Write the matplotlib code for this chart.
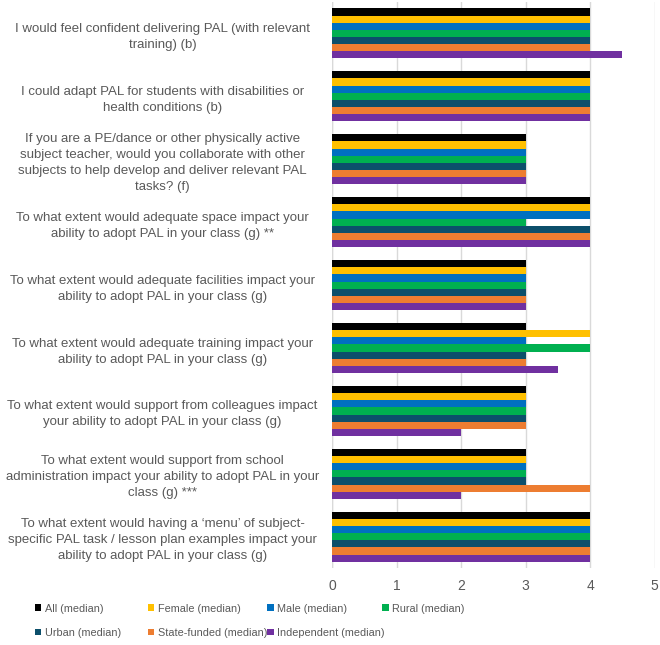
import numpy as np
import matplotlib
matplotlib.use("Agg")
import matplotlib.pyplot as plt

plt.rcParams['font.family'] = ['Liberation Sans', 'DejaVu Sans']

# questions (top to bottom)
questions = [
    "I would feel confident delivering PAL (with relevant\ntraining) (b)",
    "I could adapt PAL for students with disabilities or\nhealth conditions (b)",
    "If you are a PE/dance or other physically active\nsubject teacher, would you collaborate with other\nsubjects to help develop and deliver relevant PAL\ntasks? (f)",
    "To what extent would adequate space impact your\nability to adopt PAL in your class (g) **",
    "To what extent would adequate facilities impact your\nability to adopt PAL in your class (g)",
    "To what extent would adequate training impact your\nability to adopt PAL in your class (g)",
    "To what extent would support from colleagues impact\nyour ability to adopt PAL in your class (g)",
    "To what extent would support from school\nadministration impact your ability to adopt PAL in your\nclass (g) ***",
    "To what extent would having a \u2018menu\u2019 of subject-\nspecific PAL task / lesson plan examples impact your\nability to adopt PAL in your class (g)",
]

series_names = ["All (median)", "Female (median)", "Male (median)", "Rural (median)",
                "Urban (median)", "State-funded (median)", "Independent (median)"]
colors = ["#000000", "#FFC000", "#0070C0", "#00B050", "#0C4F6B", "#ED7D31", "#7030A0"]

all_med         = [4, 4, 3, 4, 3, 3, 3, 3, 4]
female_med      = [4, 4, 3, 4, 3, 4, 3, 3, 4]
male_med        = [4, 4, 3, 4, 3, 3, 3, 3, 4]
rural_med       = [4, 4, 3, 3, 3, 4, 3, 3, 4]
urban_med       = [4, 4, 3, 4, 3, 3, 3, 3, 4]
state_med       = [4, 4, 3, 4, 3, 3, 3, 4, 4]
independent_med = [4.5, 4, 3, 4, 3, 3.5, 2, 2, 4]

values = [all_med, female_med, male_med, rural_med, urban_med, state_med, independent_med]

fig = plt.figure(figsize=(6.6, 6.45), dpi=100)
ax = fig.add_axes([0.503, 0.119, 0.489, 0.878])

y = np.arange(len(questions))
h = 0.794 / len(values)
bars = []
for i, (vals, name, c) in enumerate(zip(values, series_names, colors)):
    offs = (i - (len(values) - 1) / 2) * h
    bars.append(ax.barh(y + offs, vals, height=h, color=c, label=name, zorder=3))

ax.set_xlim(0, 5)
ax.set_ylim(len(questions) - 0.5, -0.5)
ax.set_xticks(range(6))
ax.set_yticks(y)
ax.set_yticklabels(questions, ha='center', multialignment='center')
for lbl in ax.get_yticklabels():
    lbl.set_linespacing(1.45)
ax.tick_params(axis='y', length=0, pad=122, labelsize=9.5, labelcolor='#595959')
ax.tick_params(axis='x', length=0, pad=8, labelsize=10, labelcolor='#595959')
ax.grid(axis='x', color='#D9D9D9', linewidth=1, zorder=0)
for s in ax.spines.values():
    s.set_visible(False)
ax.axvline(0, color='#D9D9D9', linewidth=1, zorder=1)

# legend: 4 equal-width columns, filled row by row
col_x = [0.053, 0.224, 0.405, 0.579]
for col in range(4):
    idx = [k for k in (col, col + 4) if k < len(series_names)]
    fig.legend([bars[k] for k in idx], [series_names[k] for k in idx],
               loc='upper left', bbox_to_anchor=(col_x[col], 0.064), frameon=False,
               fontsize=7.8, labelcolor='#595959', handlelength=0.6, handleheight=0.6,
               handletextpad=0.3, labelspacing=1.3, borderpad=0, borderaxespad=0)

fig.savefig("out.png", dpi=100)
